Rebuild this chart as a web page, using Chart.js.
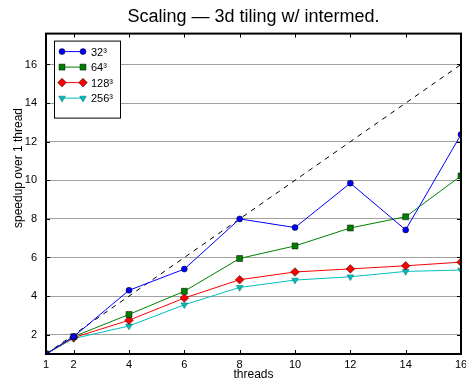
<!DOCTYPE html>
<html>
<head>
<meta charset="utf-8">
<script src="https://cdn.jsdelivr.net/npm/chart.js@4/dist/chart.umd.min.js"></script>
<style>
  html, body { margin: 0; padding: 0; background: #fff; }
  #wrap { width: 466px; height: 379px; }
</style>
</head>
<body>
<div id="wrap"><canvas id="c" width="466" height="379"></canvas></div>
<script>
// threads on the x axis
var threads = [1, 2, 4, 6, 8, 10, 12, 14, 16];
var xTicks = [1, 2, 4, 6, 8, 10, 12, 14, 16];
var yTicks = [2, 4, 6, 8, 10, 12, 14, 16];

// speedup per problem size
var s32 = [1, 1.9, 4.3, 5.4, 8.0, 7.55, 9.85, 7.43, 12.37];
var s64 = [1, 1.9, 3.05, 4.25, 5.95, 6.6, 7.53, 8.11, 10.23];
var s128 = [1, 1.85, 2.75, 3.9, 4.85, 5.25, 5.41, 5.57, 5.76];
var s256 = [1, 1.8, 2.45, 3.55, 4.45, 4.83, 5.0, 5.28, 5.35];
var ideal = [1, 16];

var labels = ['32³', '64³', '128³', '256³'];
var colors = ['#0000ff', '#008000', '#ff0000', '#00bfbf'];
var markers = ['circle', 'rect', 'rectRot', 'triangle'];
var sizes = [3, 4.2, 4.3, 3.8];

const FONT = 'Liberation Sans';
const Y_TITLE = 'speedup over 1 thread';

function pts(ys) {
    return ys.map(function (y, i) { return { x: threads[i], y: y }; });
}

var series = [s32, s64, s128, s256];
var datasets = series.map(function (ys, i) {
    return {
        label: labels[i],
        data: pts(ys),
        borderColor: colors[i],
        backgroundColor: colors[i],
        borderWidth: 1,
        pointStyle: markers[i],
        pointRotation: i === 3 ? 180 : 0,
        pointRadius: sizes[i],
        pointBorderColor: i === 3 ? '#005f5f' : '#000',
        pointBorderWidth: 0.5,
        tension: 0
    };
});
datasets.push({
    label: 'ideal',
    data: [{ x: ideal[0], y: ideal[0] }, { x: ideal[1], y: ideal[1] }],
    borderColor: '#000',
    borderWidth: 1,
    borderDash: [5, 5],
    pointRadius: 0,
    tension: 0
});

// matplotlib-ish frame: box with inward ticks on all four sides, plus the legend box
const framePlugin = {
    id: 'frame',
    afterDatasetsDraw: function (chart) {
        var ctx = chart.ctx, a = chart.chartArea;
        var xs = chart.scales.x, ys = chart.scales.y;
        ctx.save();
        ctx.strokeStyle = '#000';
        ctx.lineWidth = 1;
        ctx.beginPath();
        xTicks.forEach(function (v) {
            var px = Math.round(xs.getPixelForValue(v)) + 0.5;
            ctx.moveTo(px, a.bottom); ctx.lineTo(px, a.bottom - 4);
            ctx.moveTo(px, a.top); ctx.lineTo(px, a.top + 4);
        });
        yTicks.forEach(function (v) {
            var py = Math.round(ys.getPixelForValue(v)) + 0.5;
            ctx.moveTo(a.left, py); ctx.lineTo(a.left + 4, py);
            ctx.moveTo(a.right, py); ctx.lineTo(a.right - 4, py);
        });
        ctx.stroke();
        ctx.lineWidth = 2;
        ctx.strokeRect(a.left, a.top, a.right - a.left, a.bottom - a.top);

        // y axis title (sits a bit above the plot centre in the original)
        ctx.save();
        ctx.translate(19, 168);
        ctx.rotate(-Math.PI / 2);
        ctx.font = '12px "' + FONT + '"';
        ctx.fillStyle = '#000';
        ctx.textAlign = 'center';
        ctx.textBaseline = 'middle';
        ctx.fillText(Y_TITLE, 0, 0);
        ctx.restore();

        // legend
        var lx = a.left + 8, ly = a.top + 7, lw = 66, lh = 77;
        ctx.fillStyle = '#fff';
        ctx.fillRect(lx, ly, lw, lh);
        ctx.lineWidth = 1;
        ctx.strokeStyle = '#000';
        ctx.strokeRect(lx + 0.5, ly + 0.5, lw, lh);
        ctx.font = '11px "' + FONT + '"';
        ctx.textBaseline = 'middle';
        ctx.textAlign = 'left';
        for (var i = 0; i < 4; i++) {
            var ry = ly + 11 + i * 15.5;
            var x0 = lx + 8, x1 = lx + 29;
            var ds = chart.data.datasets[i];
            ctx.strokeStyle = ds.borderColor;
            ctx.beginPath(); ctx.moveTo(x0, ry); ctx.lineTo(x1, ry); ctx.stroke();
            [x0, x1].forEach(function (px) {
                ctx.fillStyle = ds.backgroundColor;
                ctx.strokeStyle = ds.pointBorderColor;
                ctx.lineWidth = 0.5;
                Chart.helpers.drawPoint(ctx, {
                    pointStyle: ds.pointStyle,
                    rotation: ds.pointRotation,
                    radius: ds.pointRadius,
                    borderWidth: 0.5
                }, px, ry);
            });
            ctx.lineWidth = 1;
            ctx.fillStyle = '#000';
            ctx.fillText(ds.label, x1 + 8, ry + 1);
        }
        ctx.restore();
    }
};

new Chart(document.getElementById('c'), {
    type: 'line',
    data: { datasets: datasets },
    options: {
        responsive: false,
        animation: false,
        devicePixelRatio: 1,
        layout: { padding: { left: 0, right: 5, top: 0, bottom: 0 } },
        plugins: {
            legend: { display: false },
            tooltip: { enabled: false },
            title: {
                display: true,
                fullSize: false,
                text: 'Scaling — 3d tiling w/ intermed.',
                color: '#000',
                font: { family: FONT, size: 18, weight: 'normal' },
                padding: { top: 6, bottom: 6 }
            }
        },
        scales: {
            x: {
                type: 'linear',
                min: 1, max: 16,
                afterBuildTicks: function (s) { s.ticks = xTicks.map(function (v) { return { value: v }; }); },
                afterFit: function (s) { s.height = 25; s.paddingLeft = 0; s.paddingRight = 0; },
                grid: { display: false, drawTicks: false },
                border: { display: false },
                ticks: { color: '#000', font: { family: FONT, size: 11 }, padding: 4, maxRotation: 0, autoSkip: false },
                title: { display: true, text: 'threads', color: '#000', font: { family: FONT, size: 12 }, padding: { top: 0, bottom: -3 } }
            },
            y: {
                type: 'linear',
                min: 1, max: 17.6,
                afterBuildTicks: function (s) { s.ticks = yTicks.map(function (v) { return { value: v }; }); },
                afterFit: function (s) { s.width = 46; },
                grid: { color: '#a0a0a0', lineWidth: 1, drawTicks: false },
                border: { display: false },
                ticks: { color: '#000', font: { family: FONT, size: 11 }, padding: 9, autoSkip: false }
            }
        }
    },
    plugins: [framePlugin]
});
</script>
</body>
</html>
